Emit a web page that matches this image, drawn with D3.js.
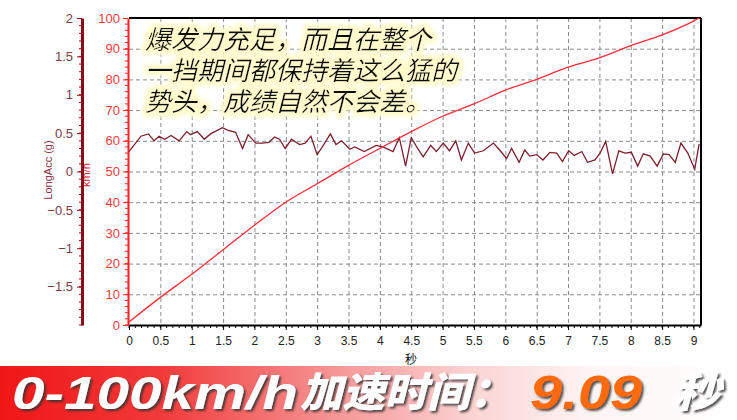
<!DOCTYPE html>
<html><head><meta charset="utf-8">
<script src="https://cdn.jsdelivr.net/npm/d3@7"></script>
<style>html,body{margin:0;padding:0;background:#fff;}svg{display:block;}</style>
</head><body>
<svg id="chart" width="737" height="420"></svg>
<script>
// ---- data ----
const speedTime = [0, 0.5, 1, 1.5, 2, 2.5, 3, 3.5, 4, 4.5, 5, 5.5, 6, 6.5, 7, 7.5, 8, 8.5, 9, 9.09];
const speedKmh  = [1, 9, 16.5, 24.5, 32.5, 40, 46, 52, 57.5, 63, 68, 72, 76.5, 80, 84, 87, 91, 94.5, 99, 100];
const accTime = [0.00,0.19,0.31,0.40,0.48,0.57,0.67,0.80,0.92,0.98,1.09,1.20,1.30,1.49,1.57,1.70,1.81,1.90,2.02,2.13,2.23,2.32,2.40,2.49,2.59,2.72,2.81,2.90,3.00,3.09,3.21,3.30,3.39,3.52,3.60,3.75,3.94,4.05,4.21,4.31,4.41,4.50,4.58,4.69,4.81,4.90,5.01,5.11,5.21,5.30,5.41,5.51,5.65,5.81,5.91,6.02,6.10,6.22,6.31,6.39,6.50,6.60,6.71,6.82,6.91,7.01,7.10,7.22,7.31,7.43,7.51,7.60,7.71,7.81,7.91,8.01,8.11,8.20,8.31,8.42,8.52,8.61,8.71,8.80,8.91,9.02,9.09];
const accG    = [0.26,0.46,0.49,0.40,0.46,0.42,0.47,0.40,0.52,0.48,0.52,0.42,0.49,0.57,0.54,0.51,0.30,0.48,0.37,0.37,0.38,0.45,0.42,0.30,0.42,0.35,0.37,0.46,0.22,0.33,0.49,0.35,0.40,0.29,0.32,0.26,0.34,0.32,0.26,0.44,0.07,0.44,0.33,0.19,0.34,0.26,0.37,0.27,0.40,0.15,0.37,0.24,0.27,0.37,0.28,0.17,0.30,0.12,0.28,0.20,0.22,0.15,0.25,0.24,0.13,0.27,0.21,0.26,0.12,0.15,0.24,0.39,-0.03,0.27,0.24,0.25,0.07,0.23,0.20,0.07,0.23,0.22,0.12,0.37,0.24,0.03,0.36];
const xTicks = [0,0.5,1,1.5,2,2.5,3,3.5,4,4.5,5,5.5,6,6.5,7,7.5,8,8.5,9];
const speedTicks = [0,10,20,30,40,50,60,70,80,90,100];
const accTicks = [-1.5,-1,-0.5,0,0.5,1,1.5,2];
const noteLines = ["爆发力充足，而且在整个","一挡期间都保持着这么猛的","势头，成绩自然不会差。"];
const bannerParts = ["0-100km/h","加速时间：","9.09","秒"];

// ---- scales ----
const svg = d3.select("#chart");
const x = d3.scaleLinear().domain([0, 9.12]).range([129, 701]);
const yS = d3.scaleLinear().domain([0, 100]).range([325, 18]);
const yA = d3.scaleLinear().domain([-2, 2]).range([325, 18]);

// grid
const grid = svg.append("g").attr("stroke","#8a8a8a").attr("stroke-dasharray","4,3").attr("stroke-width",1);
grid.selectAll("line.v").data(xTicks.filter(d=>d>0)).join("line")
  .attr("x1",d=>x(d)+0.5).attr("x2",d=>x(d)+0.5).attr("y1",yS(100)).attr("y2",yS(0));
grid.selectAll("line.h").data(speedTicks.filter(d=>d>0&&d<100)).join("line")
  .attr("x1",x(0)).attr("x2",x(9.12)).attr("y1",d=>yS(d)+0.5).attr("y2",d=>yS(d)+0.5);

// border top/right
svg.append("line").attr("x1",x(0)).attr("x2",x(9.12)).attr("y1",yS(100)).attr("y2",yS(100)).attr("stroke","#000").attr("stroke-width",2);
svg.append("line").attr("x1",x(9.12)).attr("x2",x(9.12)).attr("y1",yS(100)).attr("y2",yS(0)).attr("stroke","#000").attr("stroke-width",2);

// x axis
const xMinor = d3.range(0, 9.11, 0.1);
const xa = svg.append("g").attr("transform","translate(0,325)");
xa.call(d3.axisBottom(x).tickValues(xTicks).tickSize(5).tickSizeOuter(0).tickPadding(6).tickFormat(d3.format("~g")));
xa.select(".domain").attr("stroke","#000").attr("stroke-width",2);
xa.selectAll(".tick line").attr("stroke","#000");
xa.selectAll(".tick text").attr("font-family","Liberation Sans, Arial, sans-serif").attr("font-size",12).attr("fill","#222");
xa.selectAll("line.minor").data(xMinor).join("line").attr("class","minor")
  .attr("x1",d=>x(d)).attr("x2",d=>x(d)).attr("y1",0).attr("y2",3).attr("stroke","#000");
svg.append("text").attr("x",411).attr("y",364).attr("text-anchor","middle")
  .attr("font-family","Noto Sans CJK SC").attr("font-size",12).attr("fill","#111").text("秒");

// speed axis
const sa = svg.append("g").attr("transform","translate(128,0)");
sa.call(d3.axisLeft(yS).tickValues(speedTicks).tickSize(5).tickSizeOuter(0).tickPadding(3));
sa.select(".domain").attr("stroke","#ff2020").attr("stroke-width",2);
sa.selectAll(".tick line").attr("stroke","#ff2020");
sa.selectAll(".tick text").attr("font-family","Liberation Sans, Arial, sans-serif").attr("font-size",13).attr("fill","#ff3a3a");
sa.selectAll("line.minor").data(d3.range(0,100,2)).join("line").attr("class","minor")
  .attr("x1",-3).attr("x2",0).attr("y1",d=>yS(d)).attr("y2",d=>yS(d)).attr("stroke","#ff2020");
svg.append("text").attr("transform","translate(90,175) rotate(-90)").attr("text-anchor","middle")
  .attr("font-family","Liberation Sans, Arial, sans-serif").attr("font-size",11).attr("fill","#e8202a").text("km/h");

// acc axis
const aa = svg.append("g").attr("transform","translate(82,0)");
aa.call(d3.axisLeft(yA).tickValues(accTicks).tickSize(5).tickSizeOuter(0).tickPadding(4).tickFormat(d3.format("~g")));
aa.select(".domain").attr("stroke","#8a0c18").attr("stroke-width",3);
aa.selectAll(".tick line").attr("stroke","#8a0c18");
aa.selectAll(".tick text").attr("font-family","Liberation Sans, Arial, sans-serif").attr("font-size",13).attr("fill","#7a3a48");
aa.selectAll("line.minor").data(d3.range(-2,2,0.1)).join("line").attr("class","minor")
  .attr("x1",-3).attr("x2",0).attr("y1",d=>yA(d)).attr("y2",d=>yA(d)).attr("stroke","#8a0c18");
svg.append("text").attr("transform","translate(52,170) rotate(-90)").attr("text-anchor","middle")
  .attr("font-family","Liberation Sans, Arial, sans-serif").attr("font-size",11).attr("fill","#8a3040").text("LongAcc (g)");

// lines
svg.append("path").datum(d3.zip(accTime, accG))
  .attr("d", d3.line().x(d=>x(d[0])).y(d=>yA(d[1])))
  .attr("fill","none").attr("stroke","#7e1e2c").attr("stroke-width",1.3);
svg.append("path").datum(d3.zip(speedTime, speedKmh))
  .attr("d", d3.line().curve(d3.curveMonotoneX).x(d=>x(d[0])).y(d=>yS(d[1])))
  .attr("fill","none").attr("stroke","#ff2a3a").attr("stroke-width",1.3);

// note text
const defs = svg.append("defs");
const glow = defs.append("filter").attr("id","glow").attr("x","-10%").attr("y","-30%").attr("width","120%").attr("height","160%");
glow.append("feMorphology").attr("in","SourceAlpha").attr("operator","dilate").attr("radius",3).attr("result","d");
glow.append("feGaussianBlur").attr("in","d").attr("stdDeviation",2.5).attr("result","b");
glow.append("feFlood").attr("flood-color","#fffbcc");
glow.append("feComposite").attr("in2","b").attr("operator","in").attr("result","g");
const m = glow.append("feMerge");
m.append("feMergeNode").attr("in","g");
m.append("feMergeNode").attr("in","g");
m.append("feMergeNode").attr("in","SourceGraphic");
svg.append("g").attr("filter","url(#glow)").selectAll("text").data(noteLines).join("text")
  .attr("x",145).attr("y",(d,i)=>49+i*31)
  .attr("font-family","Noto Sans CJK SC").attr("font-size",26).attr("font-style","italic").attr("fill","#111")
  .text(d=>d);

// banner
const grad = defs.append("linearGradient").attr("id","bg").attr("x1",0).attr("x2",1).attr("y1",0).attr("y2",0);
[[0,"#f01616"],[0.22,"#f23a3a"],[0.45,"#f69494"],[0.65,"#fbd6d6"],[0.8,"#fff4f4"],[1,"#ffffff"]]
  .forEach(s=>grad.append("stop").attr("offset",s[0]).attr("stop-color",s[1]));
svg.append("rect").attr("x",0).attr("y",366).attr("width",737).attr("height",54).attr("fill","url(#bg)");
const sh = defs.append("filter").attr("id","sh").attr("x","-10%").attr("y","-20%").attr("width","130%").attr("height","150%");
sh.append("feDropShadow").attr("dx",2).attr("dy",2).attr("stdDeviation",1.2).attr("flood-color","#333").attr("flood-opacity",0.85);
const bspec = [
  {x:12, w:286, fs:46, fill:"#ffffff", font:"Liberation Sans, Arial, sans-serif"},
  {x:300, w:212, fs:41, fill:"#ffffff", font:"Noto Sans CJK SC"},
  {x:530, w:112, fs:48, fill:"#ff6a10", font:"Liberation Sans, Arial, sans-serif"},
  {x:674, w:46, fs:41, fill:"#ffffff", font:"Noto Sans CJK SC"}
];
svg.append("g").attr("filter","url(#sh)").selectAll("text").data(bannerParts).join("text")
  .attr("x",(d,i)=>bspec[i].x).attr("y",(d,i)=>i%2 ? 407 : 409)
  .attr("textLength",(d,i)=>bspec[i].w).attr("lengthAdjust","spacingAndGlyphs")
  .attr("font-family",(d,i)=>bspec[i].font).attr("font-size",(d,i)=>bspec[i].fs)
  .attr("font-weight",900).attr("font-style","italic")
  .attr("fill",(d,i)=>bspec[i].fill)
  .text(d=>d);
</script>
</body></html>
